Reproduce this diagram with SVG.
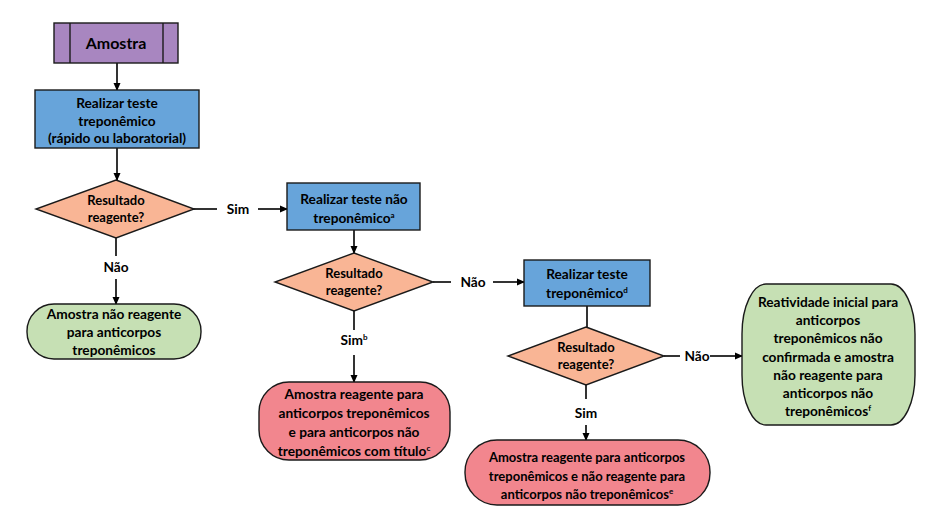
<svg xmlns="http://www.w3.org/2000/svg" width="933" height="517" viewBox="0 0 933 517">
<defs>
<marker id="ah" markerWidth="8" markerHeight="8" refX="7" refY="4" orient="auto" markerUnits="userSpaceOnUse">
<path d="M0,0.5 L8,4 L0,7.5 Z" fill="#000"/>
</marker>
<style>
text{font-family:Lato,"Liberation Sans",sans-serif;font-weight:bold;font-size:13.7px;fill:#000;text-anchor:middle}
.t{font-size:16px}
.d{font-size:13px}
.s{font-size:13px}
.sup{font-size:8px}
.ln{stroke:#000;stroke-width:1.6;fill:none}
.ar{stroke:#000;stroke-width:1.6;fill:none;marker-end:url(#ah)}
.bx{stroke:#1a1a1a;stroke-width:1.4}
.pu{fill:#A886C0}.bl{fill:#67A4DA}.or{fill:#F9B595}.gr{fill:#C6E0B4}.rd{fill:#F2868E}
</style>
</defs>
<rect width="933" height="517" fill="#fff"/>
<g id="connectors">
<line class="ar" x1="117" y1="63" x2="117" y2="90"/>
<line class="ar" x1="117" y1="148" x2="117" y2="180"/>
<line class="ln" x1="193" y1="209" x2="217" y2="209"/>
<line class="ar" x1="258" y1="209" x2="287" y2="209"/>
<line class="ln" x1="116" y1="238" x2="116" y2="256"/>
<line class="ar" x1="116" y1="279" x2="116" y2="304"/>
<line class="ar" x1="354" y1="230" x2="354" y2="253"/>
<line class="ln" x1="433" y1="282" x2="451" y2="282"/>
<line class="ar" x1="493" y1="282" x2="524" y2="282"/>
<line class="ln" x1="354" y1="311" x2="354" y2="330"/>
<line class="ar" x1="354" y1="355" x2="354" y2="382"/>
<line class="ln" x1="587" y1="306" x2="587" y2="327"/>
<line class="ln" x1="664" y1="356" x2="680" y2="356"/>
<line class="ar" x1="710" y1="356" x2="742" y2="356"/>
<line class="ln" x1="586" y1="385" x2="586" y2="399"/>
<line class="ar" x1="586" y1="425" x2="586" y2="440"/>
<text x="238" y="214">Sim</text>
<text x="116" y="272">Não</text>
<text x="473" y="287">Não</text>
<text x="354" y="345">Sim<tspan class="sup" dy="-5">b</tspan></text>
<text x="697" y="361">Não</text>
<text x="586" y="418">Sim</text>
</g>
<g id="amostra">
<rect class="bx pu" x="54" y="23" width="124" height="40"/>
<line class="bx" x1="70" y1="23" x2="70" y2="63"/>
<line class="bx" x1="163" y1="23" x2="163" y2="63"/>
<text class="t" x="116" y="49">Amostra</text>
</g>
<g id="teste1">
<rect class="bx bl" x="35" y="90" width="164" height="58"/>
<text x="117" y="108">Realizar teste</text>
<text x="117" y="126">treponêmico</text>
<text x="117" y="143">(rápido ou laboratorial)</text>
</g>
<g id="decisao1">
<polygon class="bx or" points="116,180 194,209 116,238 36,209"/>
<text class="d" x="116" y="205">Resultado</text>
<text class="d" x="116" y="222">reagente?</text>
</g>
<g id="naoreagente">
<rect class="bx gr" x="27" y="304" width="174" height="55" rx="27" ry="27"/>
<text x="114" y="319">Amostra não reagente</text>
<text x="114" y="337">para anticorpos</text>
<text x="114" y="355">treponêmicos</text>
</g>
<g id="teste2">
<rect class="bx bl" x="287" y="183" width="133" height="47"/>
<text x="354" y="204">Realizar teste não</text>
<text x="354" y="223">treponêmico<tspan class="sup" dy="-5">a</tspan></text>
</g>
<g id="decisao2">
<polygon class="bx or" points="354,253 433,282 354,311 275,282"/>
<text class="d" x="354" y="278">Resultado</text>
<text class="d" x="354" y="295">reagente?</text>
</g>
<g id="reagente1">
<rect class="bx rd" x="259" y="382" width="191" height="78" rx="30" ry="30"/>
<text x="354" y="399">Amostra reagente para</text>
<text x="354" y="418">anticorpos treponêmicos</text>
<text x="354" y="437">e para anticorpos não</text>
<text x="354" y="456">treponêmicos com título<tspan class="sup" dy="-5">c</tspan></text>
</g>
<g id="teste3">
<rect class="bx bl" x="524" y="260" width="126" height="46"/>
<text x="587" y="279">Realizar teste</text>
<text x="587" y="298">treponêmico<tspan class="sup" dy="-5">d</tspan></text>
</g>
<g id="decisao3">
<polygon class="bx or" points="586,327 664,356 586,385 508,356"/>
<text class="d" x="586" y="352">Resultado</text>
<text class="d" x="586" y="369">reagente?</text>
</g>
<g id="reagente2">
<rect class="bx rd" x="465" y="440" width="245" height="65" rx="32" ry="32"/>
<text class="s" x="587" y="462">Amostra reagente para anticorpos</text>
<text class="s" x="587" y="481">treponêmicos e não reagente para</text>
<text class="s" x="587" y="499">anticorpos não treponêmicos<tspan class="sup" dy="-5">e</tspan></text>
</g>
<g id="naoconfirmada">
<rect class="bx gr" x="742" y="284" width="173" height="141" rx="24" ry="50"/>
<text x="828" y="307">Reatividade inicial para</text>
<text x="828" y="325">anticorpos</text>
<text x="828" y="343">treponêmicos não</text>
<text x="828" y="362">confirmada e amostra</text>
<text x="828" y="380">não reagente para</text>
<text x="828" y="398">anticorpos não</text>
<text x="828" y="416">treponêmicos<tspan class="sup" dy="-5">f</tspan></text>
</g>
</svg>
